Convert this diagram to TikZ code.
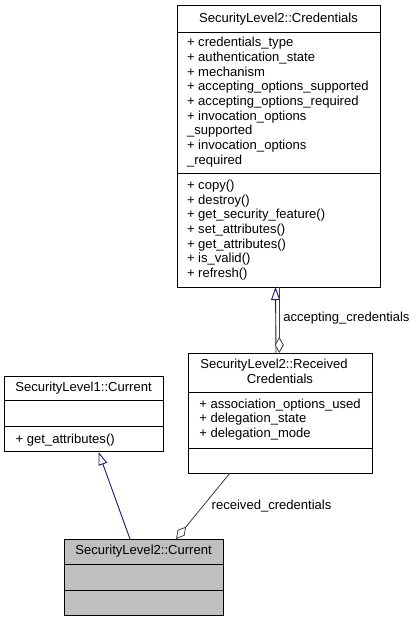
\documentclass[tikz,border=0pt]{standalone}
\usepackage{fontspec}
\setmainfont{Liberation Sans}
\usetikzlibrary{arrows.meta,calc}
\definecolor{edgeblue}{HTML}{191970}
\definecolor{edgegray}{HTML}{404040}
\definecolor{boxfill}{HTML}{BFBFBF}
\begin{document}
\begin{tikzpicture}[x=1bp,y=-1bp,
  box/.style={draw=black, line width=0.9bp, inner sep=0pt, outer sep=0pt, anchor=north west},
  sep/.style={draw=black, line width=0.9bp},
  txt/.style={inner sep=0pt, outer sep=0pt, font=\fontsize{13.1}{14.67}\selectfont, anchor=base west},
  ttl/.style={txt, anchor=base},
  inherit/.style={draw=edgeblue, line width=0.9bp, -{Triangle[length=13bp, width=9bp, fill=white]}},
  aggr/.style={draw=edgegray, line width=0.8bp, -{Diamond[length=16bp, width=9bp, fill=white]}}
]
\useasboundingbox (0,0) rectangle (415,621);

% ---------- SecurityLevel2::Credentials ----------
\node[box, minimum width=203bp, minimum height=282bp] (cred) at (177,5) {};
\draw[sep] (177,32) -- (380,32);
\draw[sep] (177,173) -- (380,173);
\node[ttl] (credt) at (278.5,22.7) {SecurityLevel2::Credentials};
\foreach \t [count=\i from 0] in {+ credentials\_type, + authentication\_state, + mechanism,
  + accepting\_options\_supported, + accepting\_options\_required, + invocation\_options,
  \_supported, + invocation\_options, \_required}
  \node[txt] (ca\i) at (187,46.7+\i*14.67) {\t};
\foreach \t [count=\i from 0] in {+ copy(), + destroy(), + get\_security\_feature(),
  + set\_attributes(), + get\_attributes(), + is\_valid(), + refresh()}
  \node[txt] (cm\i) at (187,189.5+\i*14.67) {\t};

% ---------- SecurityLevel2::ReceivedCredentials ----------
\node[box, minimum width=184bp, minimum height=120bp] (rc) at (188,353) {};
\draw[sep] (188,392) -- (372,392);
\draw[sep] (188,448) -- (372,448);
\node[ttl] (rct1) at (274,368.3) {SecurityLevel2::Received};
\node[ttl] (rct2) at (280,383.3) {Credentials};
\foreach \t [count=\i from 0] in {+ association\_options\_used, + delegation\_state, + delegation\_mode}
  \node[txt] (ra\i) at (199.3,408.3+\i*14.67) {\t};

% ---------- SecurityLevel1::Current ----------
\node[box, minimum width=159bp, minimum height=75bp] (sl1) at (4,376) {};
\draw[sep] (4,400) -- (163,400);
\draw[sep] (4,426) -- (163,426);
\node[ttl] (sl1t) at (83.5,391) {SecurityLevel1::Current};
\node[txt] (sl1m) at (15.7,443.3) {+ get\_attributes()};

% ---------- SecurityLevel2::Current ----------
\node[box, fill=boxfill, minimum width=159bp, minimum height=76bp] (sl2) at (64,539) {};
\draw[sep] (64,564) -- (223,564);
\draw[sep] (64,590) -- (223,590);
\node[ttl] (sl2t) at (143.5,554.3) {SecurityLevel2::Current};

% ---------- connectors ----------
\coordinate (sl2a) at ($(sl2.north west)+(66,0)$);
\coordinate (sl1b) at ($(sl1.south west)+(94.5,1)$);
\draw[inherit] (sl2a) -- (sl1b);

\coordinate (rcb) at ($(rc.south west)+(42,0)$);
\coordinate (sl2b) at ($(sl2.north west)+(112,0)$);
\draw[aggr] (rcb) -- (sl2b);
\node[txt] (lblrc) at (211.7,509.3) {received\_credentials};

\coordinate (rcta) at ($(rc.north west)+(88,0)$);
\coordinate (credba) at ($(cred.south west)+(98.5,0)$);
\draw[inherit] (rcta) -- (credba);

\coordinate (credbb) at ($(cred.south west)+(102.3,0)$);
\coordinate (rctb) at ($(rc.north west)+(91.3,0)$);
\draw[aggr] (credbb) -- (rctb);
\node[txt] (lblac) at (283.3,321.7) {accepting\_credentials};
\end{tikzpicture}
\end{document}
